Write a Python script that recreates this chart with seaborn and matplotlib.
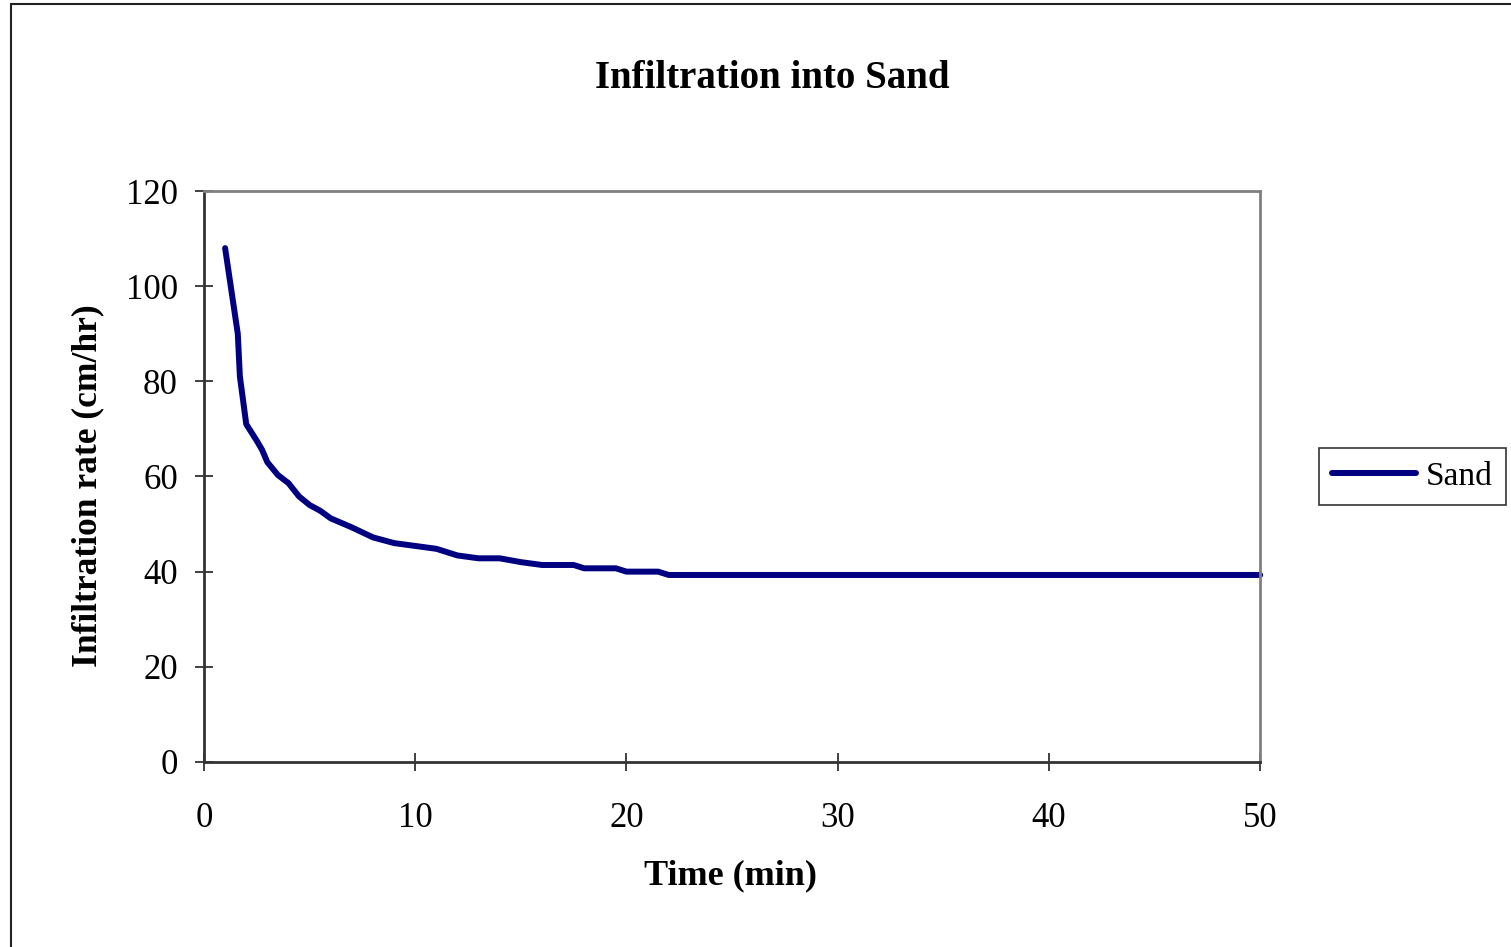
import numpy as np
import pandas as pd

import matplotlib
matplotlib.use("Agg")
import matplotlib.pyplot as plt
from matplotlib.patches import Rectangle
import seaborn as sns


# ==========================================================
# DATA
# ==========================================================

time_min = [
    1, 1.6, 1.7, 2, 2.5, 2.75, 3, 3.5, 4, 4.5, 5, 5.5, 6,
    7, 8, 9, 10, 11, 12, 13, 14, 15, 16, 17.5, 18, 19.5,
    20, 21.5, 22, 25, 30, 35, 40, 45, 50
]

rate_cm_hr = [
    108, 90, 81, 71, 67.5, 65.6, 63, 60.3, 58.6, 55.8, 54, 52.8, 51.2,
    49.3, 47.2, 46, 45.4, 44.8, 43.4, 42.8, 42.8, 42, 41.4, 41.4, 40.7, 40.7,
    40, 40, 39.3, 39.3, 39.3, 39.3, 39.3, 39.3, 39.3
]

series_name = "Sand"

x_ticks = [0, 10, 20, 30, 40, 50]
y_ticks = [0, 20, 40, 60, 80, 100, 120]


# ==========================================================
# STYLE
# ==========================================================

sns.set_theme(style="white")

plt.rcParams["font.family"] = ["Liberation Serif", "DejaVu Serif"]
plt.rcParams["text.color"] = "black"
plt.rcParams["axes.labelcolor"] = "black"

LINE_COLOR = "#000080"

df = pd.DataFrame(
    {
        "Time (min)": time_min,
        "Infiltration rate (cm/hr)": rate_cm_hr,
        "Soil": series_name
    }
)


# ==========================================================
# FIGURE
# ==========================================================

fig = plt.figure(
    figsize=(15.11, 9.47),
    dpi=100
)

ax = fig.add_axes(
    [0.135, 0.1954, 0.699, 0.6029]
)

sns.lineplot(
    data=df,
    x="Time (min)",
    y="Infiltration rate (cm/hr)",
    hue="Soil",
    palette=[LINE_COLOR],
    linewidth=4.3,
    ax=ax,
    clip_on=False
)

ax.set_xlim(0, 50)
ax.set_ylim(0, 120)

ax.set_xticks(x_ticks)
ax.set_yticks(y_ticks)

ax.tick_params(
    axis="both",
    which="major",
    direction="inout",
    length=13.5,
    width=1.3,
    color="#333333",
    labelsize=25,
    labelcolor="black"
)

ax.tick_params(axis="x", pad=22)
ax.tick_params(axis="y", pad=12)

ax.tick_params(
    left=True,
    bottom=True
)

for side in ["left", "bottom"]:
    ax.spines[side].set_color("#333333")
    ax.spines[side].set_linewidth(2)

for side in ["top", "right"]:
    ax.spines[side].set_color("#808080")
    ax.spines[side].set_linewidth(2)

ax.set_xlabel(
    "Time (min)",
    fontsize=26,
    fontweight="bold"
)

ax.set_ylabel(
    "Infiltration rate (cm/hr)",
    fontsize=25.5,
    fontweight="bold"
)

# label centres measured in the picture (pixels)
ax.xaxis.set_label_coords(730 / 1511, 1 - 876 / 947, transform=fig.transFigure)
ax.yaxis.set_label_coords(88 / 1511, 1 - 486 / 947, transform=fig.transFigure)
ax.xaxis.label.set_va("center")
ax.yaxis.label.set_va("center")

fig.text(
    0.511,
    1 - 78 / 947,
    "Infiltration into Sand",
    ha="center",
    va="center",
    fontsize=28,
    fontweight="bold",
    color="black"
)

# --------------------------------------
# LEGEND
# --------------------------------------

ax.get_legend().remove()

handles, labels = ax.get_legend_handles_labels()

leg = fig.legend(
    handles,
    labels,
    loc="center left",
    bbox_to_anchor=(1319 / 1511, 1 - 476.5 / 947),
    bbox_transform=fig.transFigure,
    fontsize=24,
    handlelength=2.5,
    handletextpad=0.3,
    borderpad=0.4,
    borderaxespad=0,
    fancybox=False,
    framealpha=1,
    edgecolor="#333333"
)

leg.get_frame().set_linewidth(1.2)

# --------------------------------------
# OUTER CHART BORDER
# --------------------------------------

fig.patches.append(
    Rectangle(
        (11 / 1511, -0.1),
        1.2,
        1 - 4 / 947 + 0.1,
        transform=fig.transFigure,
        fill=False,
        edgecolor="#222222",
        linewidth=1.5
    )
)

fig.savefig(
    "out.png",
    dpi=100
)

plt.close()
